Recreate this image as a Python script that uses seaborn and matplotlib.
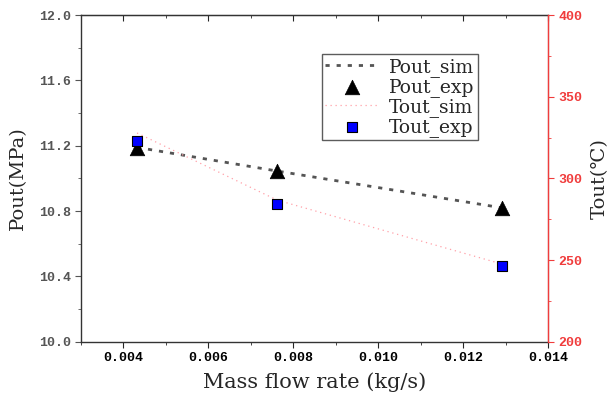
import matplotlib
matplotlib.use("Agg")
import matplotlib.pyplot as plt
from matplotlib.ticker import MultipleLocator, FormatStrFormatter
import seaborn as sns
import pandas as pd

flow = [0.00432, 0.00762, 0.01291]
pout_sim = [11.19, 11.045, 10.82]
pout_exp = [11.186, 11.045, 10.818]
tout_sim = [327.8, 286.7, 247.6]
tout_exp = [322.9, 284.3, 246.5]

sns.set_style("ticks")
SERIF = ['DejaVu Serif', 'Noto Sans CJK SC', 'DejaVu Sans']
plt.rcParams['font.family'] = ['Liberation Mono', 'Noto Sans CJK SC', 'DejaVu Sans']
plt.rcParams['xtick.major.size'] = 4
plt.rcParams['ytick.major.size'] = 4
plt.rcParams['xtick.minor.size'] = 2.5
plt.rcParams['ytick.minor.size'] = 2.5

df = pd.DataFrame({"flow": flow, "pout_sim": pout_sim, "pout_exp": pout_exp,
                   "tout_sim": tout_sim, "tout_exp": tout_exp})

fig = plt.figure(figsize=(6.09, 3.96), dpi=100)
ax = fig.add_axes([0.133, 0.137, 0.767, 0.825])
ax2 = ax.twinx()

red = "#f03c3c"

sns.lineplot(data=df, x="flow", y="pout_sim", ax=ax, color="#555555", lw=2.0,
             linestyle=(0, (1.5, 2.5)), label="Pout_sim", legend=False)
sns.scatterplot(data=df, x="flow", y="pout_exp", ax=ax, color="black", marker="^",
                s=110, edgecolor="black", linewidth=0.5, label="Pout_exp", legend=False, zorder=5)
sns.lineplot(data=df, x="flow", y="tout_sim", ax=ax2, color="#ffa0a8", lw=0.9,
             linestyle=(0, (1, 3)), label="Tout_sim", legend=False)
sns.scatterplot(data=df, x="flow", y="tout_exp", ax=ax2, color="#0000ff", marker="s",
                s=60, edgecolor="black", linewidth=0.8, label="Tout_exp", legend=False, zorder=6)

ax.set_xlim(0.003, 0.014)
ax.set_ylim(10.0, 12.0)
ax2.set_ylim(200, 400)

ax.xaxis.set_major_locator(MultipleLocator(0.002))
ax.xaxis.set_minor_locator(MultipleLocator(0.001))
ax.yaxis.set_major_locator(MultipleLocator(0.4))
ax.yaxis.set_minor_locator(MultipleLocator(0.2))
ax2.yaxis.set_major_locator(MultipleLocator(50))
ax2.yaxis.set_minor_locator(MultipleLocator(25))
ax.xaxis.set_major_formatter(FormatStrFormatter("%.3f"))
ax.yaxis.set_major_formatter(FormatStrFormatter("%.1f"))

ax.set_xticks([0.004, 0.006, 0.008, 0.010, 0.012, 0.014])

ax.tick_params(axis='x', which='both', direction='out', bottom=True, top=False,
               labelsize=9.5, labelcolor='black')
for lab in ax.get_xticklabels():
    lab.set_fontweight('bold')
ax.tick_params(axis='y', which='both', direction='out', left=True, labelsize=9.5,
               labelcolor='#555555', color='#555555')
for lab in ax.get_yticklabels():
    lab.set_fontweight('bold')
ax2.tick_params(axis='y', which='both', direction='out', colors=red, labelsize=9.5)
for lab in ax2.get_yticklabels():
    lab.set_fontweight('bold')

# top inward ticks
secx = ax.secondary_xaxis('top')
secx.set_xticks([0.004, 0.006, 0.008, 0.010, 0.012, 0.014])
secx.xaxis.set_minor_locator(MultipleLocator(0.001))
secx.tick_params(axis='x', which='both', direction='in', labeltop=False)

for sp in ['left', 'bottom', 'top']:
    ax.spines[sp].set_color('#333333')
    ax.spines[sp].set_linewidth(1.0)
ax2.spines['right'].set_color(red)
ax2.spines['right'].set_linewidth(1.0)
ax2.spines['left'].set_visible(False)
ax2.spines['top'].set_visible(False)
ax2.spines['bottom'].set_visible(False)
secx.spines['top'].set_color('#333333')

ax.set_xlabel("Mass flow rate (kg/s)", fontsize=15, labelpad=6, family=SERIF)
ax.set_ylabel("Pout(MPa)", fontsize=14, labelpad=8, family=SERIF)
ax2.set_ylabel("Tout(℃)", fontsize=14, labelpad=6, family=SERIF)

h1, l1 = ax.get_legend_handles_labels()
h2, l2 = ax2.get_legend_handles_labels()
leg = ax2.legend(h1 + h2, l1 + l2, loc='upper left', bbox_to_anchor=(0.515, 0.88),
                 prop={'family': SERIF, 'size': 13.5}, frameon=True, fancybox=False,
                 edgecolor='#333333',
                 borderpad=0.2, labelspacing=0.05, handlelength=2.8, handletextpad=0.6,
                 borderaxespad=0)
leg.get_frame().set_linewidth(1.0)

fig.savefig("out.png", dpi=100)
